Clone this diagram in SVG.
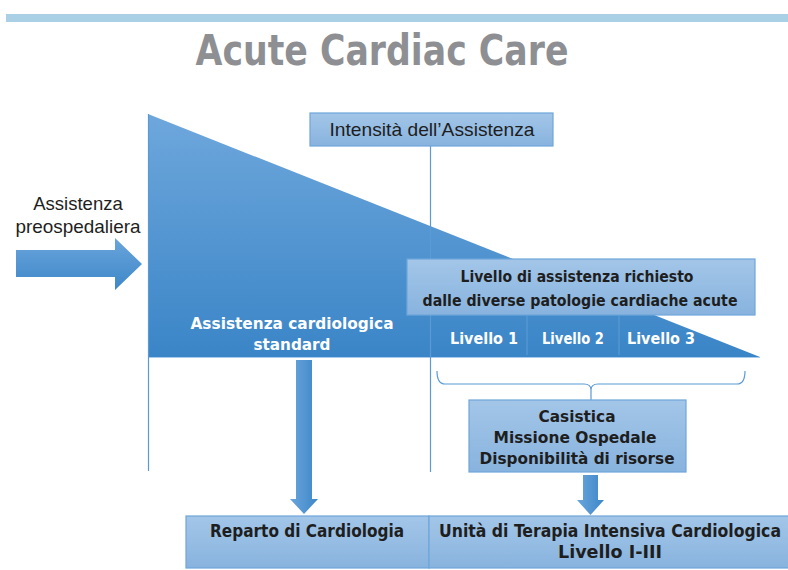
<svg xmlns="http://www.w3.org/2000/svg" width="788" height="570" viewBox="0 0 788 570">
<defs>
<linearGradient id="gTri" x1="0" y1="0" x2="0" y2="1">
<stop offset="0" stop-color="#6ea7dc"/>
<stop offset="1" stop-color="#3a85c7"/>
</linearGradient>
<linearGradient id="gBox" x1="0" y1="0" x2="0" y2="1">
<stop offset="0" stop-color="#a3c6e8"/>
<stop offset="1" stop-color="#88b3de"/>
</linearGradient>
<linearGradient id="gArrH" x1="0" y1="0" x2="0" y2="1">
<stop offset="0" stop-color="#6aa5dc"/>
<stop offset="1" stop-color="#3d87c8"/>
</linearGradient>
<linearGradient id="gArrV" x1="0" y1="0" x2="1" y2="0">
<stop offset="0" stop-color="#6aa5dc"/>
<stop offset="1" stop-color="#3d87c8"/>
</linearGradient>
</defs>
<style>
.box{fill:url(#gBox);stroke:#6ea6da;stroke-width:1.2}
.vline{stroke:#5b9bd5;stroke-width:1.2;fill:none}
.t{font-family:"Liberation Sans",Arial,sans-serif;fill:#1e1e1e;text-anchor:middle}
.b{font-family:"DejaVu Sans Condensed","DejaVu Sans","Liberation Sans",sans-serif;font-weight:bold}
.w{fill:#ffffff}
</style>
<rect x="6" y="14" width="782" height="8" fill="#a9d0e5"/>
<text x="382" y="65" class="t b" style="fill:#8e8f93;font-size:42px" textLength="373" lengthAdjust="spacingAndGlyphs">Acute Cardiac Care</text>

<g id="triangle">
<polygon points="148,114 760,357 148,357" fill="url(#gTri)"/>
<line x1="148" y1="357.5" x2="760" y2="357.5" stroke="#a6cbec" stroke-width="1.2"/>
</g>

<g id="connectors">
<line class="vline" x1="148.5" y1="114" x2="148.5" y2="471"/>
<line class="vline" x1="430.5" y1="146" x2="430.5" y2="472"/>
<path d="M437,371 Q437,384 445,384 L584,384 Q591,384 591,390 L591,400 M591,390 Q591,384 598,384 L737,384 Q745,384 745,371" fill="none" stroke="#5b9bd5" stroke-width="1.2"/>
<polygon points="16,250 115,250 115,238 142,264 115,290 115,277 16,277" fill="url(#gArrH)"/>
<polygon points="296,360 312,360 312,499 318,499 304,514 290,499 296,499" fill="url(#gArrV)"/>
<polygon points="583,475 598,475 598,500 604,500 590.5,515 577,500 583,500" fill="url(#gArrV)"/>
</g>

<g id="pre">
<text x="78" y="210" class="t" style="font-size:18.5px">Assistenza</text>
<text x="78" y="233" class="t" style="font-size:18.5px" textLength="125" lengthAdjust="spacingAndGlyphs">preospedaliera</text>
</g>

<g id="intensita">
<rect class="box" x="310" y="113" width="243" height="33"/>
<text x="432" y="136" class="t" style="font-size:19px" textLength="205" lengthAdjust="spacingAndGlyphs">Intensità dell’Assistenza</text>
</g>

<g id="standard">
<text x="292" y="329" class="t b w" style="font-size:16.5px" textLength="203" lengthAdjust="spacingAndGlyphs">Assistenza cardiologica</text>
<text x="292" y="350" class="t b w" style="font-size:16.5px" textLength="77" lengthAdjust="spacingAndGlyphs">standard</text>
</g>

<g id="livello-richiesto">
<rect class="box" x="407" y="259" width="348" height="56"/>
<text x="577" y="282" class="t b" style="font-size:16.5px" textLength="233" lengthAdjust="spacingAndGlyphs">Livello di assistenza richiesto</text>
<text x="580" y="306" class="t b" style="font-size:16.5px" textLength="315" lengthAdjust="spacingAndGlyphs">dalle diverse patologie cardiache acute</text>
</g>

<g id="livelli">
<line x1="527" y1="315" x2="527" y2="355" stroke="#5d9dd6" stroke-width="1"/>
<line x1="619" y1="315" x2="619" y2="355" stroke="#5d9dd6" stroke-width="1"/>
<text x="484" y="344" class="t b w" style="font-size:15.5px" textLength="68" lengthAdjust="spacingAndGlyphs">Livello  1</text>
<text x="573" y="344" class="t b w" style="font-size:15.5px" textLength="62" lengthAdjust="spacingAndGlyphs">Livello 2</text>
<text x="661" y="344" class="t b w" style="font-size:15.5px" textLength="68" lengthAdjust="spacingAndGlyphs">Livello  3</text>
</g>

<g id="casistica">
<rect class="box" x="469" y="400" width="217" height="72"/>
<text x="577" y="422" class="t b" style="font-size:16.5px" textLength="77" lengthAdjust="spacingAndGlyphs">Casistica</text>
<text x="575" y="443" class="t b" style="font-size:16.5px" textLength="163" lengthAdjust="spacingAndGlyphs">Missione Ospedale</text>
<text x="577" y="464" class="t b" style="font-size:16.5px" textLength="195" lengthAdjust="spacingAndGlyphs">Disponibilità di risorse</text>
</g>

<g id="reparto">
<rect class="box" x="186" y="516" width="243" height="52"/>
<text x="307" y="537" class="t b" style="font-size:17.5px" textLength="194" lengthAdjust="spacingAndGlyphs">Reparto di Cardiologia</text>
</g>

<g id="utic">
<rect class="box" x="429" y="516" width="362" height="52"/>
<text x="610" y="537" class="t b" style="font-size:17.5px" textLength="342" lengthAdjust="spacingAndGlyphs">Unità di Terapia Intensiva Cardiologica</text>
<text x="610" y="558" class="t b" style="font-size:17.5px" textLength="104" lengthAdjust="spacingAndGlyphs">Livello I-III</text>
</g>
</svg>
